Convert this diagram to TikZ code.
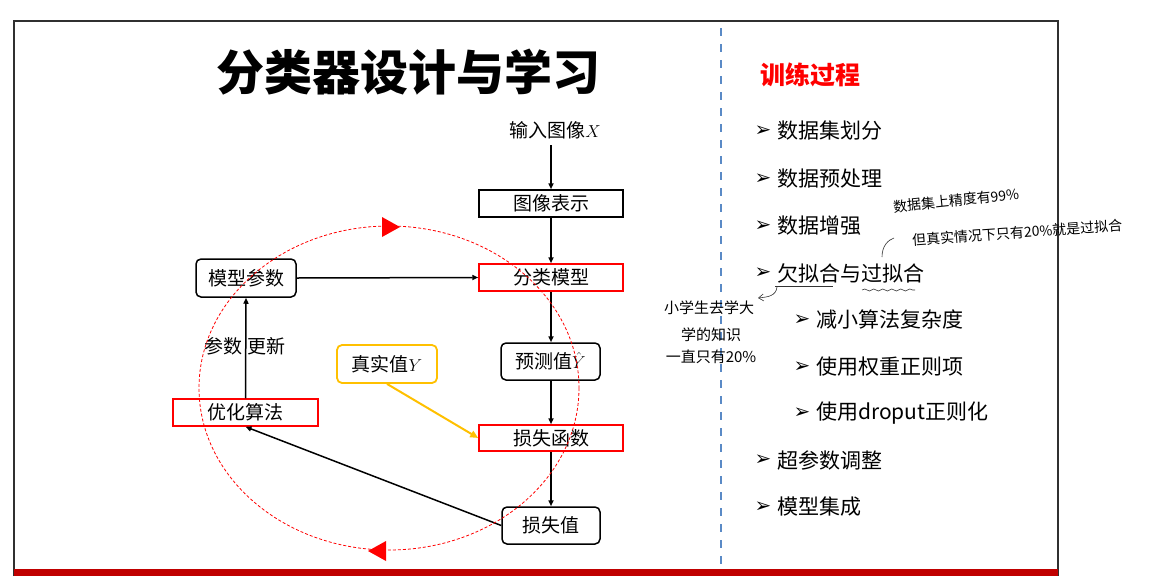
\documentclass[tikz,border=0pt]{standalone}
\usepackage{fontspec}
\setmainfont{Noto Sans CJK SC}
\newfontfamily\bulfont{DejaVu Sans}
\usetikzlibrary{arrows.meta,decorations.pathmorphing}
\definecolor{slidered}{HTML}{C00000}
\definecolor{boxred}{HTML}{FF0000}
\definecolor{gold}{HTML}{FFC000}
\definecolor{dashblue}{HTML}{5A8AC6}
\definecolor{framegray}{HTML}{303030}
\tikzset{
  fs/.style={font=\fontsize{#1}{#1}\selectfont},
  plainbox/.style={draw=black, line width=1.5pt, minimum width=144pt, minimum height=27pt, inner sep=0pt, fs=19},
  redbox/.style={plainbox, draw=boxred},
  roundbox/.style={draw=black, line width=1.5pt, rounded corners=5pt, minimum width=99pt, minimum height=37pt, inner sep=0pt, fs=19},
  arr/.style={-{Triangle[length=6pt,width=5pt]}, line width=1.5pt},
  item/.style={anchor=west, fs=21, inner sep=0pt},
  bulletmark/.style={inner sep=0pt, font=\bulfont\fontsize{20}{20}\selectfont},
  hand/.style={fs=14, inner sep=0pt},
  handline/.style={line width=0.6pt, black!80}
}
\begin{document}
\begin{tikzpicture}[x=1pt,y=-1pt]
\useasboundingbox (0,0) rectangle (1159,576);
% slide frame
\draw[framegray, line width=1.5pt] (14,576) -- (14,21) -- (1058,21) -- (1058,576);
\fill[slidered] (14,569) rectangle (1058,576);
\draw[dashblue, line width=1.6pt, dash pattern=on 8pt off 8pt] (721,28) -- (721,569);

% title
\node[font=\bfseries\fontsize{48}{48}\selectfont, inner sep=0pt] (title) at (408,72) {分类器设计与学习};

% flow chart
\node[fs=19, inner sep=0pt] (input) at (555,130) {输入图像$X$};
\node[plainbox] (img) at (551,203.5) {图像表示};
\node[redbox] (cls) at (551,277.5) {分类模型};
\node[roundbox] (pred) at (550.5,361.5) {预测值$\hat{Y}$};
\node[redbox, minimum height=26pt] (lossf) at (551,438) {损失函数};
\node[roundbox, minimum width=98pt] (lossv) at (551,525.5) {损失值};
\node[roundbox, minimum width=100pt, minimum height=38pt] (param) at (246,278) {模型参数};
\node[redbox, minimum width=145pt] (opt) at (245.5,412.5) {优化算法};
\node[roundbox, draw=gold, line width=1.8pt, minimum width=100pt, minimum height=38pt] (truth) at (387,364) {真实值$Y$};
\node[fs=19, inner sep=0pt] (upd) at (245,346) {参数 更新};

\coordinate (instart) at (551,145);
\draw[arr] (instart) -- (img.north);
\draw[arr] (img.south) -- (cls.north);
\draw[arr] (cls.south) -- (pred.north -| cls.south);
\draw[arr] (pred.south -| lossf.north) -- (lossf.north);
\draw[arr] (lossf.south) -- (lossv.north -| lossf.south);
\draw[arr] (lossv.west) -- (opt.south);
\draw[arr] (opt.north) -- (param.south);
\draw[arr] (param.east) -- (cls.west);
\draw[-{Triangle[length=8pt,width=7pt]}, gold, line width=2pt] (truth.south) -- (lossf.west);

% red dashed loop
\draw[boxred, line width=0.8pt, dash pattern=on 3pt off 2pt] (389,388) ellipse [x radius=190, y radius=162];
\coordinate (toptip) at (400,227);
\coordinate (bottip) at (368,551);
\fill[boxred] (toptip) -- (382,217) -- (382,237) -- cycle;
\fill[boxred] (bottip) -- (386,541) -- (386,561) -- cycle;

% right column
\node[anchor=west, inner sep=0pt, text=boxred, font=\bfseries\fontsize{25}{25}\selectfont] (train) at (760,75) {训练过程};

\foreach \y/\t [count=\i] in {131/数据集划分, 179/数据预处理, 226/数据增强, 273/欠拟合与过拟合, 460/超参数调整, 507/模型集成}{
  \node[bulletmark] (b\i) at (763,\y) {➢};
  \node[item] (t\i) at (777,\y) {\t};
}
\foreach \y/\t [count=\i] in {320/减小算法复杂度, 367/使用权重正则项, 413/使用droput正则化}{
  \node[bulletmark] (sb\i) at (802,\y) {➢};
  \node[item] (st\i) at (816,\y) {\t};
}

% handwritten notes
\node[hand, rotate=6, anchor=west] (h1) at (893,207) {数据集上精度有99\%};
\node[hand, rotate=4, anchor=west] (h2) at (912,240) {但真实情况下只有20\%就是过拟合};
\node[hand, fs=15] (h3) at (709,308) {小学生去学大};
\node[hand, fs=15] (h4) at (711,335) {学的知识};
\node[hand, fs=15] (h5) at (711,357) {一直只有20\%};
\draw[handline] (775,286) -- (833,286);
\draw[handline, decorate, decoration={snake, amplitude=1pt, segment length=9pt}] (862,290) -- (915,290);
\coordinate (ua) at (777,287);
\coordinate (ub) at (758,298);
\draw[handline, -{Straight Barb[length=5pt,width=7pt]}] (ua) .. controls (776,296) and (768,297) .. (ub);
\coordinate (hc) at (882,257);
\coordinate (hd) at (894,238);
\draw[handline] (hc) .. controls (882,246) and (888,240) .. (hd);
\end{tikzpicture}
\end{document}
